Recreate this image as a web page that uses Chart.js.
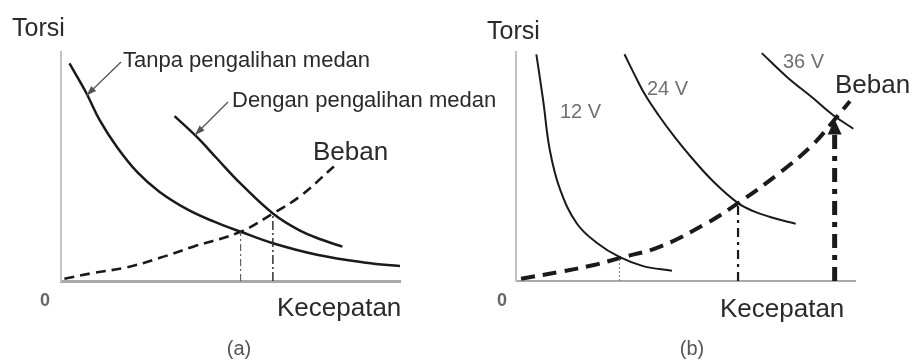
<!DOCTYPE html>
<html>
<head>
<meta charset="utf-8">
<script src="https://cdn.jsdelivr.net/npm/chart.js@4/dist/chart.umd.min.js"></script>
<style>
  html, body { margin: 0; padding: 0; background: #fff; }
  body { width: 915px; height: 360px; position: relative; overflow: hidden; }
  canvas { position: absolute; top: 0; }
  #chart-a { left: 0; }
  #chart-b { left: 455px; }
</style>
</head>
<body>
<canvas id="chart-a" width="520" height="360"></canvas>
<canvas id="chart-b" width="460" height="360"></canvas>
<script>
// (a) speed / torque points for the two motor curves and the load
const tanpaSpeed  = [0.25, 0.75, 1.15, 1.65, 2.25, 2.9, 3.7, 4.5, 5.3, 6.25, 7.55, 9.0, 10.0];
const tanpaTorque = [9.5, 8.2, 7.0, 5.85, 4.75, 3.9, 3.15, 2.6, 2.15, 1.65, 1.15, 0.8, 0.65];
const denganSpeed  = [3.35, 4.0, 4.6, 5.3, 6.25, 7.05, 7.7, 8.3];
const denganTorque = [7.2, 6.3, 5.35, 4.25, 2.95, 2.2, 1.8, 1.5];
const bebanASpeed  = [0.1, 0.95, 1.95, 2.9, 3.9, 5.3, 6.25, 7.05, 8.05];
const bebanATorque = [0.1, 0.35, 0.6, 1.0, 1.5, 2.15, 2.95, 3.7, 5.0];
// operating points (a)
const titikASpeed  = [5.3, 6.25];
const titikATorque = [2.15, 2.95];

// (b) curves per supply voltage and the load
const v12Speed  = [0.6, 0.8, 1.0, 1.3, 1.8, 2.4, 3.05, 3.75, 4.6];
const v12Torque = [9.9, 7.9, 5.7, 4.0, 2.5, 1.65, 1.05, 0.65, 0.45];
const v24Speed  = [3.2, 3.5, 3.8, 4.2, 4.7, 5.2, 5.85, 6.55, 7.0, 7.6, 8.25];
const v24Torque = [9.9, 9.0, 8.15, 7.25, 6.25, 5.35, 4.3, 3.4, 3.05, 2.75, 2.5];
const v36Speed  = [7.25, 8.0, 8.75, 9.35, 9.95];
const v36Torque = [9.95, 8.9, 8.0, 7.25, 6.65];
const bebanBSpeed  = [0.15, 1.3, 2.3, 3.05, 4.25, 5.6, 6.55, 7.8, 8.75, 9.4, 9.85];
const bebanBTorque = [0.1, 0.4, 0.7, 1.0, 1.5, 2.5, 3.4, 4.75, 5.95, 7.05, 7.85];
// operating points (b)
const titikBSpeed  = [3.05, 6.55, 9.4];
const titikBTorque = [1.0, 3.4, 7.05];

const FONT = '"Liberation Sans", Arial, sans-serif';
const INK = '#1a1a1a';

const toPoints = (xs, ys) => xs.map((x, i) => ({ x: x, y: ys[i] }));

function curve(xs, ys, width, dash) {
  return {
    data: toPoints(xs, ys),
    showLine: true,
    borderColor: INK,
    borderWidth: width,
    borderDash: dash || [],
    pointRadius: 0,
    fill: false,
    tension: 0.4
  };
}

// dash-dot drop line from the axis up to an operating point
function dropLine(x, y, width, dash, color) {
  return {
    data: [{ x: x, y: 0 }, { x: x, y: y }],
    showLine: true,
    borderColor: color || INK,
    borderWidth: width,
    borderDash: dash,
    pointRadius: 0,
    fill: false,
    tension: 0
  };
}

function axes(xWidth, yWidth) {
  const hidden = { display: false, drawTicks: false };
  return {
    x: { type: 'linear', min: 0, max: 10, ticks: { display: false }, grid: hidden,
         border: { display: true, color: '#a8a8a8', width: xWidth } },
    y: { type: 'linear', min: 0, max: 10, ticks: { display: false }, grid: hidden,
         border: { display: true, color: '#c2c2c2', width: yWidth } }
  };
}

function arrowHead(ctx, x1, y1, x2, y2, len, half) {
  const ang = Math.atan2(y2 - y1, x2 - x1);
  ctx.beginPath();
  ctx.moveTo(x2, y2);
  ctx.lineTo(x2 - len * Math.cos(ang) + half * Math.sin(ang), y2 - len * Math.sin(ang) - half * Math.cos(ang));
  ctx.lineTo(x2 - len * Math.cos(ang) - half * Math.sin(ang), y2 - len * Math.sin(ang) + half * Math.cos(ang));
  ctx.closePath();
  ctx.fill();
}

// texts and pointer arrows drawn over each chart
function notes(texts, pointers, extra) {
  return {
    id: 'notes',
    afterDraw(chart) {
      const ctx = chart.ctx;
      ctx.save();
      pointers.forEach(p => {
        ctx.strokeStyle = '#555';
        ctx.fillStyle = '#555';
        ctx.lineWidth = 1.3;
        ctx.beginPath();
        ctx.moveTo(p[0], p[1]);
        ctx.lineTo(p[2], p[3]);
        ctx.stroke();
        arrowHead(ctx, p[0], p[1], p[2], p[3], 10, 3.5);
      });
      if (extra) extra(chart, ctx);
      texts.forEach(t => {
        ctx.font = (t.weight || 'normal') + ' ' + t.size + 'px ' + FONT;
        ctx.fillStyle = t.color || '#2a2a2a';
        ctx.textAlign = t.align || 'left';
        ctx.textBaseline = 'alphabetic';
        ctx.fillText(t.text, t.x, t.y);
      });
      ctx.restore();
    }
  };
}

const baseOptions = (xWidth, yWidth, right) => ({
  responsive: false,
  animation: false,
  events: [],
  layout: { padding: { left: 61, top: 52, right: right, bottom: 79 } },
  scales: axes(xWidth, yWidth),
  plugins: { legend: { display: false }, tooltip: { enabled: false } }
});

// (a) with and without field weakening
new Chart(document.getElementById('chart-a'), {
  type: 'scatter',
  data: {
    datasets: [
      dropLine(titikASpeed[0], titikATorque[0], 1, [7, 3, 2, 3], '#444'),
      dropLine(titikASpeed[1], titikATorque[1], 1.5, [9, 3, 2, 3], '#333'),
      curve(bebanASpeed, bebanATorque, 2.6, [10, 6]),
      curve(tanpaSpeed, tanpaTorque, 2.5),
      curve(denganSpeed, denganTorque, 2.5)
    ]
  },
  options: baseOptions(3, 2, 120),
  plugins: [notes([
    { text: 'Torsi', x: 12, y: 36, size: 25 },
    { text: 'Tanpa pengalihan medan', x: 123, y: 67, size: 22 },
    { text: 'Dengan pengalihan medan', x: 232, y: 107, size: 22 },
    { text: 'Beban', x: 313, y: 160, size: 26 },
    { text: 'Kecepatan', x: 277, y: 316, size: 26 },
    { text: '0', x: 45, y: 306, size: 18, weight: 'bold', color: '#666', align: 'center' },
    { text: '(a)', x: 239, y: 355, size: 20, color: '#555', align: 'center' }
  ], [
    [121, 62, 86.5, 95.5],
    [228, 102, 195, 135]
  ])]
});

// (b) speed control by armature voltage
new Chart(document.getElementById('chart-b'), {
  type: 'scatter',
  data: {
    datasets: [
      dropLine(titikBSpeed[0], titikBTorque[0], 1, [2, 2], '#777'),
      dropLine(titikBSpeed[1], titikBTorque[1], 2.2, [9, 5, 3, 5]),
      dropLine(titikBSpeed[2], titikBTorque[2] - 0.5, 5, [14, 7, 5, 7]),
      curve(bebanBSpeed, bebanBTorque, 4, [14, 8]),
      curve(v12Speed, v12Torque, 2),
      curve(v24Speed, v24Torque, 2),
      curve(v36Speed, v36Torque, 2)
    ]
  },
  options: baseOptions(2, 2, 60),
  plugins: [notes([
    { text: 'Torsi', x: 32, y: 39, size: 25 },
    { text: '12 V', x: 105, y: 118, size: 20, color: '#707070' },
    { text: '24 V', x: 192, y: 95, size: 20, color: '#707070' },
    { text: '36 V', x: 328, y: 68, size: 20, color: '#707070' },
    { text: 'Beban', x: 380, y: 93, size: 26 },
    { text: 'Kecepatan', x: 265, y: 317, size: 26 },
    { text: '0', x: 47, y: 306, size: 18, weight: 'bold', color: '#666', align: 'center' },
    { text: '(b)', x: 237, y: 355, size: 20, color: '#555', align: 'center' }
  ], [], (chart, ctx) => {
    // arrow tip on the highest operating point
    const px = chart.scales.x.getPixelForValue(titikBSpeed[2]);
    const py = chart.scales.y.getPixelForValue(titikBTorque[2]);
    ctx.fillStyle = INK;
    arrowHead(ctx, px, py + 20, px, py, 15, 7);
  })]
});
</script>
</body>
</html>
